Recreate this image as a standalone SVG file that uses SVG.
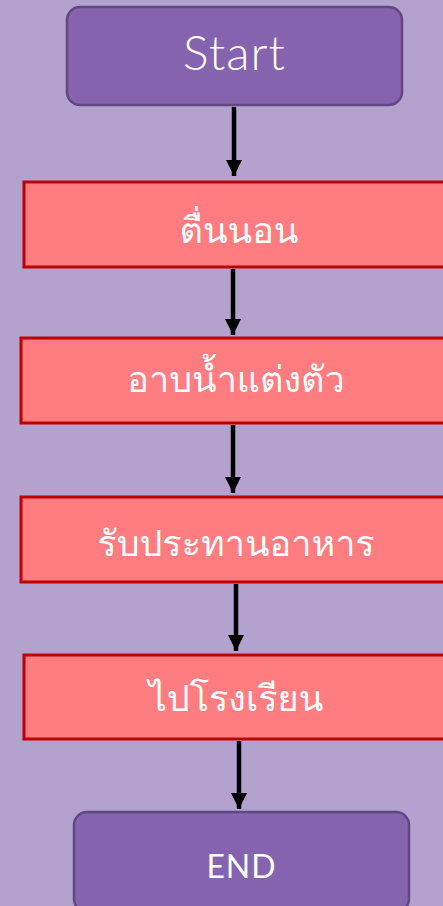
<svg xmlns="http://www.w3.org/2000/svg" width="443" height="906" viewBox="0 0 443 906">
<defs>
<marker id="ah" markerWidth="16" markerHeight="16" viewBox="0 0 16 16" refX="16" refY="8" orient="auto" markerUnits="userSpaceOnUse">
<path d="M0,0 L16,8 L0,16 Z" fill="#000"/>
</marker>
<style>
.term{fill:#8563AE;stroke:#624882;stroke-width:2.5}
.proc{fill:#FF7C80;stroke:#C00000;stroke-width:3}
.conn{stroke:#000;stroke-width:4.5;fill:none;marker-end:url(#ah)}
.th{font-family:"Loma","Garuda","Norasi","Kinnari","Noto Sans Thai Looped","Noto Sans Thai","Noto Sans",sans-serif;font-size:36px;font-weight:300;fill:#fff;text-anchor:middle}
.lat{font-family:Lato,"Liberation Sans",sans-serif;fill:#fff;text-anchor:middle}
</style>
</defs>
<rect width="443" height="906" fill="#B3A2CE"/>
<g id="connectors">
<line class="conn" x1="234" y1="107" x2="234" y2="176"/>
<line class="conn" x1="233" y1="269" x2="233" y2="335"/>
<line class="conn" x1="233" y1="425" x2="233" y2="493"/>
<line class="conn" x1="236" y1="584" x2="236" y2="651"/>
<line class="conn" x1="239" y1="741" x2="239" y2="809"/>
</g>
<g id="start">
<rect class="term" x="67" y="7" width="335" height="98" rx="13"/>
<text class="lat" x="234" y="70" font-size="48" font-weight="300" textLength="102" lengthAdjust="spacing">Start</text>
</g>
<g id="wake">
<rect class="proc" x="24" y="182" width="425" height="85"/>
<text class="th" x="239" y="243">ตื่นนอน</text>
</g>
<g id="bath">
<rect class="proc" x="21" y="338" width="428" height="85"/>
<text class="th" x="236" y="392">อาบน้ำแต่งตัว</text>
</g>
<g id="eat">
<rect class="proc" x="21" y="497" width="428" height="85"/>
<text class="th" x="236" y="556">รับประทานอาหาร</text>
</g>
<g id="school">
<rect class="proc" x="24" y="655" width="425" height="84"/>
<text class="th" x="236" y="711">ไปโรงเรียน</text>
</g>
<g id="end">
<rect class="term" x="74" y="812" width="335" height="100" rx="13"/>
<text class="lat" x="241.5" y="878" font-size="32" letter-spacing="1">END</text>
</g>
</svg>
